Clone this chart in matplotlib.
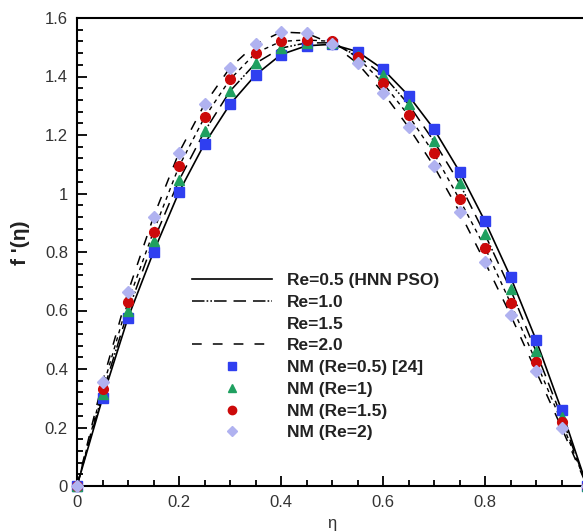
import matplotlib
matplotlib.use("Agg")
import matplotlib.pyplot as plt
from matplotlib.lines import Line2D
from matplotlib.ticker import MultipleLocator, FixedLocator, FixedFormatter

plt.rcParams['font.family'] = ['Liberation Sans', 'DejaVu Sans']
plt.rcParams['lines.scale_dashes'] = False

# ---- data ----
eta = [0.0, 0.05, 0.10, 0.15, 0.20, 0.25, 0.30, 0.35, 0.40, 0.45, 0.50,
       0.55, 0.60, 0.65, 0.70, 0.75, 0.80, 0.85, 0.90, 0.95, 1.0]

re05 = [0, 0.300, 0.575, 0.800, 1.005, 1.170, 1.305, 1.405, 1.475, 1.505, 1.510,
        1.485, 1.425, 1.335, 1.220, 1.075, 0.905, 0.715, 0.500, 0.260, 0]
re10 = [0, 0.315, 0.598, 0.838, 1.045, 1.212, 1.350, 1.445, 1.497, 1.515, 1.515,
        1.470, 1.405, 1.305, 1.178, 1.035, 0.860, 0.672, 0.460, 0.237, 0]
re15 = [0, 0.333, 0.630, 0.870, 1.093, 1.260, 1.390, 1.480, 1.520, 1.525, 1.520,
        1.465, 1.378, 1.267, 1.137, 0.980, 0.815, 0.626, 0.425, 0.220, 0]
re20 = [0, 0.355, 0.663, 0.920, 1.140, 1.305, 1.430, 1.510, 1.552, 1.548, 1.512,
        1.445, 1.345, 1.227, 1.093, 0.937, 0.765, 0.585, 0.393, 0.200, 0]

line_labels = ["Re=0.5 (HNN PSO)", "Re=1.0", "Re=1.5", "Re=2.0"]
marker_labels = ["NM (Re=0.5) [24]", "NM (Re=1)", "NM (Re=1.5)", "NM (Re=2)"]

x_ticks = [0, 0.2, 0.4, 0.6, 0.8]
x_ticklabels = ["0", "0.2", "0.4", "0.6", "0.8"]
y_ticks = [0, 0.2, 0.4, 0.6, 0.8, 1.0, 1.2, 1.4, 1.6]
y_ticklabels = ["0", "0.2", "0.4", "0.6", "0.8", "1", "1.2", "1.4", "1.6"]

# ---- styles ----
series = [re05, re10, re15, re20]
line_styles = [dict(linestyle='-', linewidth=1.2),
               dict(linestyle=(0, (9, 1.5, 1.2, 1.5, 1.2, 1.5, 9, 5, 9, 5)), linewidth=1.1),
               dict(linestyle=(0, (3, 3)), linewidth=1.0),
               dict(linestyle=(0, (7, 8)), linewidth=1.1)]
mk_colors = ['#2f3ff0', '#1fa060', '#cc0a0a', '#b0b2f0']
mk_shapes = ['s', '^', 'o', 'D']
mk_sizes = [7, 7, 7, 6.5]

fig = plt.figure(figsize=(5.83, 5.31), dpi=100)
ax = fig.add_axes([77/583, (531-486)/531, (587-77)/583, (486-18)/531])

for ys, st in zip(series, line_styles):
    ax.plot(eta, ys, color='black', zorder=2, **st)
for ys, c, m, s in zip(series, mk_colors, mk_shapes, mk_sizes):
    ax.plot(eta, ys, linestyle='none', marker=m, markersize=s, color=c,
            markeredgecolor=c, zorder=3, clip_on=False)

ax.set_xlim(0, 1)
ax.set_ylim(0, 1.6)
ax.xaxis.set_major_locator(FixedLocator(x_ticks))
ax.xaxis.set_major_formatter(FixedFormatter(x_ticklabels))
ax.yaxis.set_major_locator(FixedLocator(y_ticks))
ax.yaxis.set_major_formatter(FixedFormatter(y_ticklabels))
ax.xaxis.set_minor_locator(MultipleLocator(0.05))
ax.yaxis.set_minor_locator(MultipleLocator(0.04))
ax.tick_params(which='both', direction='in', top=False, right=False,
               width=1.3, colors='black', labelcolor='#333333', labelsize=12, pad=6.5)
ax.tick_params(which='major', length=7)
ax.tick_params(which='minor', length=4.2)
for sp in ax.spines.values():
    sp.set_linewidth(1.5)

ax.set_xlabel("η", fontsize=12, color='#333333', labelpad=4)
ax.set_ylabel("f '(η)", fontsize=15, fontweight='bold', color='#222222')
ax.yaxis.set_label_coords(-0.092, 0.52)

handles = []
for st, lab in zip(line_styles, line_labels):
    if lab == "Re=1.5":
        handles.append(Line2D([], [], linestyle='none', color='none', label=lab))
    else:
        handles.append(Line2D([], [], color='black', label=lab, **st))
for c, m, s, lab in zip(mk_colors, mk_shapes, mk_sizes, marker_labels):
    handles.append(Line2D([], [], linestyle='none', marker=m, markersize=s - 1,
                          color=c, label=lab))

leg = ax.legend(handles=handles, loc='upper left',
                bbox_to_anchor=(192/583, 1 - 273/531), bbox_transform=fig.transFigure,
                frameon=False, borderpad=0, borderaxespad=0, handlelength=4.6,
                handletextpad=0.86, labelspacing=0.38, numpoints=1,
                prop={'size': 12.5, 'weight': 'bold'})
for t in leg.get_texts():
    t.set_color('#222222')

fig.savefig("out.png", dpi=100)
